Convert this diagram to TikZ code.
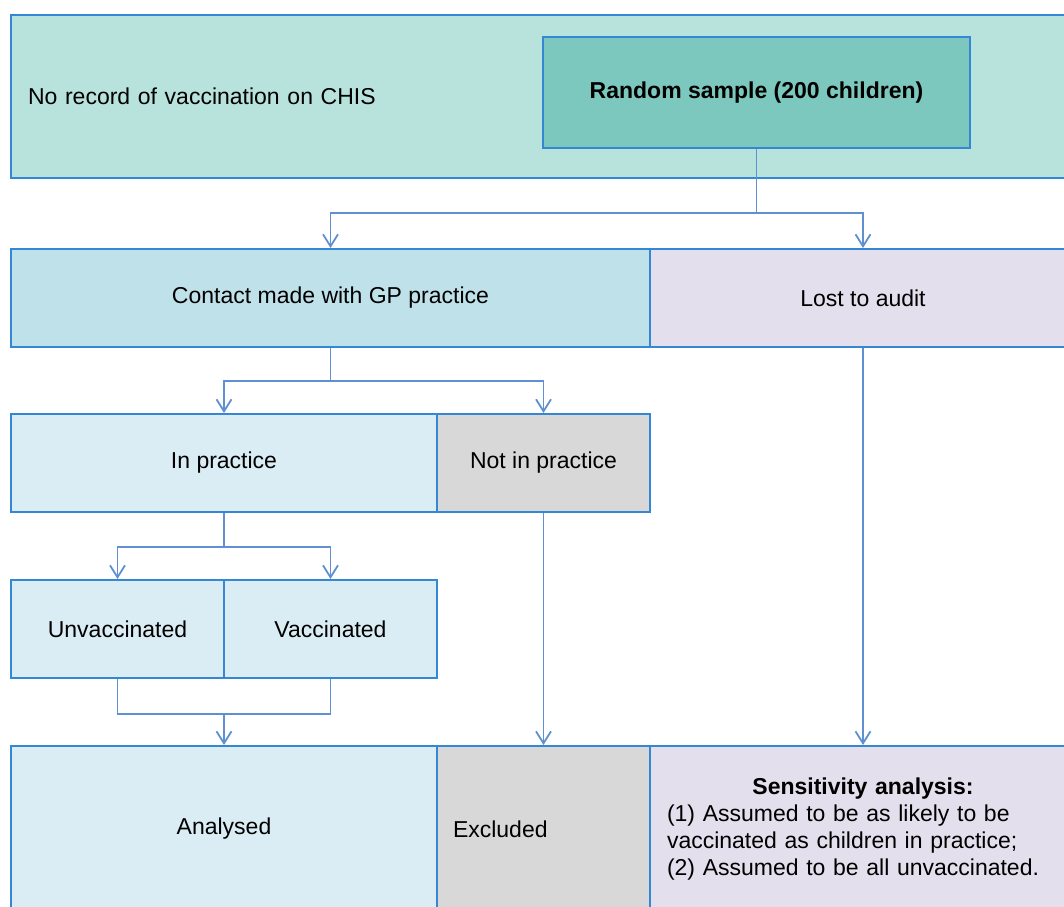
\documentclass[tikz,border=0pt]{standalone}
\usepackage{fontspec}
\setmainfont{Liberation Sans}
\usepackage{tikz}
\usetikzlibrary{positioning,calc,arrows.meta}

\definecolor{boxblue}{RGB}{52,135,210}
\definecolor{linkblue}{RGB}{95,145,210}
\definecolor{cohortfill}{RGB}{184,226,220}
\definecolor{samplefill}{RGB}{124,200,190}
\definecolor{contactfill}{RGB}{191,225,234}
\definecolor{palefill}{RGB}{219,237,244}
\definecolor{greyfill}{RGB}{216,216,216}
\definecolor{lilacfill}{RGB}{228,223,236}

\begin{document}
\begin{tikzpicture}[
    x=0.5pt, y=-0.5pt,
    font=\fontsize{11.5}{13}\selectfont,
    cell/.style={rectangle, draw=boxblue, line width=1pt, inner sep=0pt},
    wide/.style={cell, minimum width=213pt, minimum height=49pt},
    narrow/.style={cell, minimum width=106.5pt, minimum height=49pt},
    link/.style={draw=linkblue, line width=0.9pt},
    arrow/.style={link, -{Straight Barb[length=6pt,width=7.5pt]}}
]
    \useasboundingbox (0,0) rectangle (1064,906);
    \clip (0,0) rectangle (1064,906);

    % top band
    \node[cell, fill=cohortfill, minimum width=532.5pt, minimum height=81.5pt,
          text width=515.5pt, align=left, inner xsep=8.5pt] (cohort) at (543.5,96.5)
          {No record of vaccination on CHIS};
    \node[cell, fill=samplefill, minimum width=213.5pt, minimum height=55.5pt,
          font=\fontsize{11.5}{13}\selectfont\bfseries] (sample) at (756.5,92.5)
          {Random sample (200 children)};

    % second row
    \node[cell, fill=contactfill, minimum width=319.5pt, minimum height=49pt] (contact) at (330.5,298)
          {Contact made with GP practice};
    \node[wide, fill=lilacfill] (lost) at (863,298) {Lost to audit};

    % third row
    \node[wide, fill=palefill] (inpractice) at (224,463) {In practice};
    \node[narrow, fill=greyfill] (notin) at (543.5,463) {Not in practice};

    % fourth row
    \node[narrow, fill=palefill] (unvacc) at (117.5,629) {Unvaccinated};
    \node[narrow, fill=palefill] (vacc) at (330.5,629) {Vaccinated};

    % outcome row
    \node[wide, fill=palefill, minimum height=83pt] (analysed) at (224,829) {Analysed};
    \node[narrow, fill=greyfill, minimum height=83pt, text width=90.5pt, align=left,
          inner xsep=8pt] (excluded) at (543.5,829) {Excluded};
    \node[wide, fill=lilacfill, minimum height=83pt, text width=196pt, align=left,
          inner xsep=8.5pt, font=\fontsize{11.5}{13.5}\selectfont] (sens) at (863,829)
          {{\centering\bfseries Sensitivity analysis:\par}%
           (1) Assumed to be as likely to be\\
           vaccinated as children in practice;\\
           (2) Assumed to be all unvaccinated.};

    % connectors
    \coordinate (split1) at (756.5,213);
    \coordinate (split2) at (330.5,381);
    \coordinate (split3) at (224,547);
    \coordinate (merge) at (224,714);

    \draw[link] (sample) -- (split1);
    \draw[arrow] (split1) -| (contact);
    \draw[arrow] (split1) -| (lost);

    \draw[link] (contact) -- (split2);
    \draw[arrow] (split2) -| (inpractice);
    \draw[arrow] (split2) -| (notin);

    \draw[link] (inpractice) -- (split3);
    \draw[arrow] (split3) -| (unvacc);
    \draw[arrow] (split3) -| (vacc);

    \draw[link] (unvacc) |- (merge) -| (vacc);
    \draw[arrow] (merge) -- (analysed);

    \draw[arrow] (notin) -- (excluded);
    \draw[arrow] (lost) -- (sens);
\end{tikzpicture}
\end{document}
